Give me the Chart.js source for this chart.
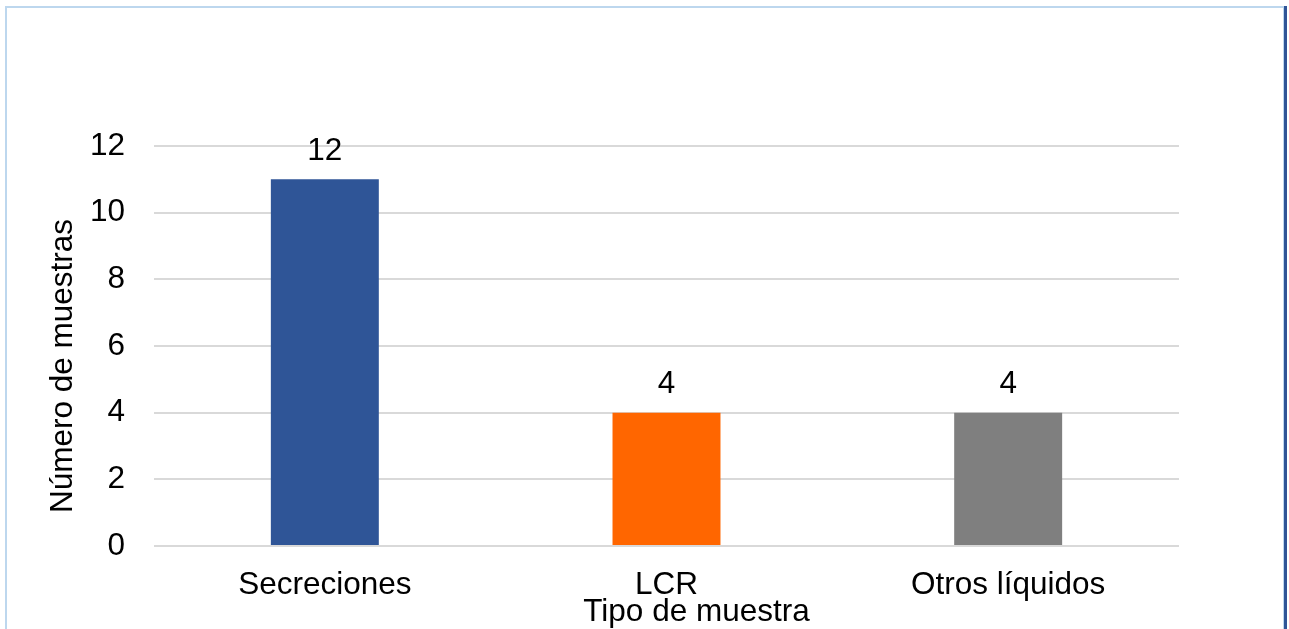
<!DOCTYPE html>
<html>
<head>
<meta charset="utf-8">
<script src="https://cdn.jsdelivr.net/npm/chart.js@4.4.1/dist/chart.umd.min.js"></script>
<style>
    html, body { margin: 0; padding: 0; background: #fff; }
    #wrap { position: relative; width: 1289px; height: 629px; overflow: hidden; }
    #frame {
        position: absolute; left: 5px; top: 6px; width: 1276px; height: 640px;
        border-left: 2px solid #bdd7ee; border-top: 2px solid #bdd7ee;
        border-right: 2px solid #bdd7ee; pointer-events: none;
    }
    #edge { position: absolute; left: 1284px; top: 6px; width: 3px; height: 640px; background: #2f5597; }
</style>
</head>
<body>
<div id="wrap">
    <canvas id="chart"></canvas>
    <div id="frame"></div>
    <div id="edge"></div>
</div>
<script>
const categories = ["Secreciones", "LCR", "Otros líquidos"];
const muestras = [11, 4, 4];
const valueLabels = ["12", "4", "4"];
const barColors = ["#2f5597", "#ff6600", "#7f7f7f"];
const yTicks = [0, 2, 4, 6, 8, 10, 12];
const xTitle = "Tipo de muestra";
const yTitle = "Número de muestras";

const FONT = "'Liberation Sans', Arial, sans-serif";
const SIZE = 31.5;

// Numbers above the bars and the two axis titles (placed as in the original, slightly off-centre)
const textPlugin = {
    id: "chartText",
    afterDatasetsDraw(chart) {
        const ctx = chart.ctx;
        const meta = chart.getDatasetMeta(0);
        const area = chart.chartArea;
        ctx.save();
        ctx.font = SIZE + "px " + FONT;
        ctx.fillStyle = "#000";
        ctx.textAlign = "center";
        ctx.textBaseline = "middle";
        meta.data.forEach((bar, i) => {
            ctx.fillText(valueLabels[i], bar.x, bar.y - 28.5);
        });

        ctx.textBaseline = "alphabetic";
        ctx.fillText(xTitle, (area.left + area.right) / 2 + 30, 621);

        ctx.translate(72, (area.top + area.bottom) / 2 + 20);
        ctx.rotate(-Math.PI / 2);
        ctx.fillText(yTitle, 0, 0);
        ctx.restore();
    }
};

const ctx = document.getElementById("chart").getContext("2d");
window.chart = new Chart(ctx, {
    type: "bar",
    data: {
        labels: categories,
        datasets: [{
            data: muestras,
            backgroundColor: barColors,
            borderWidth: 0,
            categoryPercentage: 1,
            barPercentage: 0.316
        }]
    },
    options: {
        responsive: true,
        maintainAspectRatio: false,
        animation: false,
        layout: { padding: { top: 146, right: 110, left: 0, bottom: 0 } },
        plugins: {
            legend: { display: false },
            tooltip: { enabled: false }
        },
        scales: {
            x: {
                grid: { display: false, drawTicks: false },
                border: { display: false },
                ticks: { color: "#000", font: { family: FONT, size: SIZE }, padding: 20 },
                afterFit(scale) { scale.height = 83; }
            },
            y: {
                min: 0,
                max: 12,
                afterBuildTicks(scale) { scale.ticks = yTicks.map(v => ({ value: v })); },
                grid: { color: "#d9d9d9", lineWidth: 2, drawTicks: false },
                border: { display: false },
                ticks: { color: "#000", font: { family: FONT, size: SIZE }, padding: 29 },
                afterFit(scale) { scale.width = 154; }
            }
        }
    },
    plugins: [textPlugin]
});
</script>
</body>
</html>
